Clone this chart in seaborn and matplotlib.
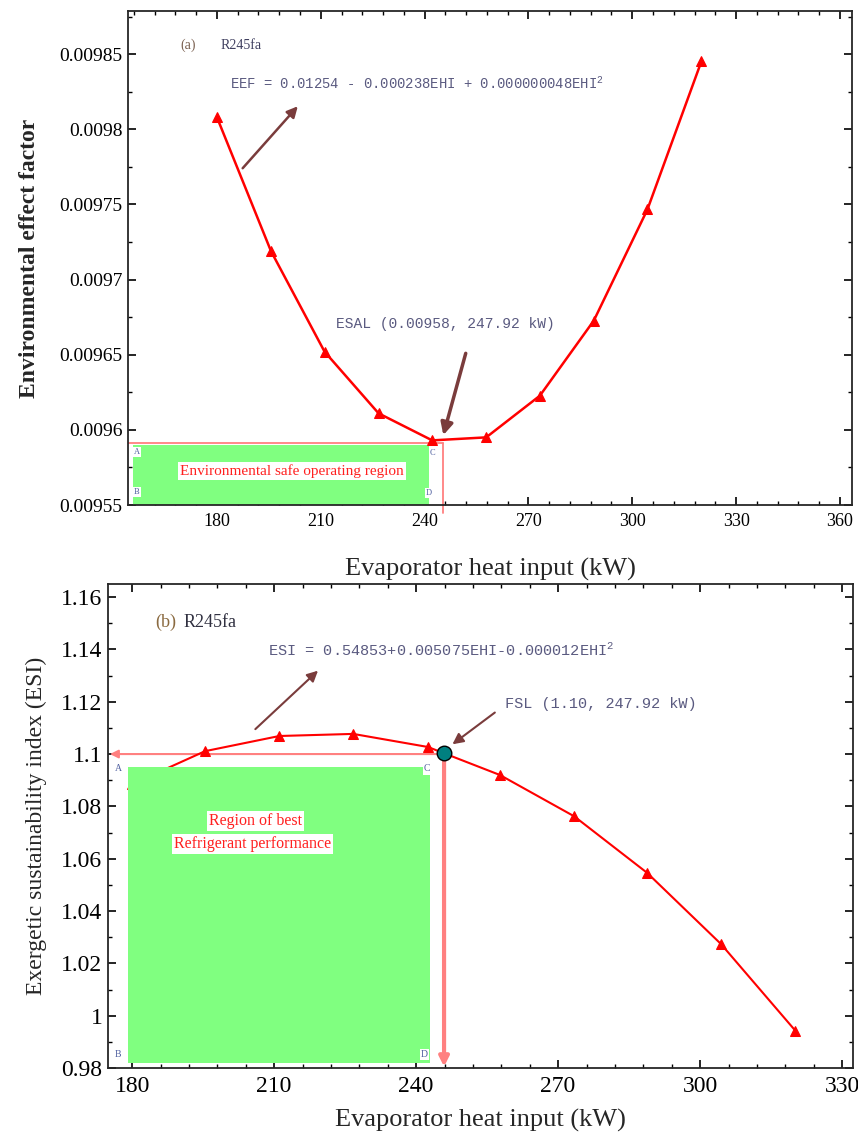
import numpy as np
import pandas as pd
import matplotlib
matplotlib.use("Agg")
import matplotlib.pyplot as plt
import seaborn as sns
from matplotlib.ticker import MultipleLocator, FixedLocator
from matplotlib.patches import Rectangle

# ---------------- data ----------------
ehi_a = [180.0, 195.6, 211.1, 226.7, 242.2, 257.8, 273.3, 288.9, 304.4, 320.0]
eef_a = [0.009808, 0.009719, 0.009652, 0.009611, 0.009593, 0.009595, 0.0096227, 0.0096727, 0.0097467, 0.0098453]
esal_x = 245.3
esal_y = 0.009591

ehi_b = [180.0, 195.4, 211.1, 226.7, 242.5, 257.7, 273.4, 288.8, 304.4, 320.1]
esi_b = [1.0885, 1.1011, 1.1069, 1.1077, 1.1027, 1.0920, 1.0762, 1.0546, 1.0274, 0.9943]
esl_x = [245.9]
esl_y = [1.1004]

xticks_a = [180, 210, 240, 270, 300, 330, 360]
yticks_a = [0.00955, 0.0096, 0.00965, 0.0097, 0.00975, 0.0098, 0.00985]
ytick_labels_a = ["0.00955", "0.0096", "0.00965", "0.0097", "0.00975", "0.0098", "0.00985"]
xticks_b = [180, 210, 240, 270, 300, 330]
yticks_b = [0.98, 1.0, 1.02, 1.04, 1.06, 1.08, 1.1, 1.12, 1.14, 1.16]
ytick_labels_b = ["0.98", "1", "1.02", "1.04", "1.06", "1.08", "1.1", "1.12", "1.14", "1.16"]

df_a = pd.DataFrame({"EHI": ehi_a, "EEF": eef_a})
df_b = pd.DataFrame({"EHI": ehi_b, "ESI": esi_b})

# ---------------- style ----------------
sns.set_theme(style="ticks")
plt.rcParams["font.family"] = ["Liberation Serif", "DejaVu Serif"]
plt.rcParams["axes.linewidth"] = 1.3
plt.rcParams["mathtext.fontset"] = "custom"
plt.rcParams["mathtext.rm"] = "Liberation Mono"

RED = "#ff0000"
PINK = "#ff8080"
GREEN = "#80ff80"
BROWN = "#7a3c3c"
TXT = "#5a5a80"
MONO = "Liberation Mono"

fig = plt.figure(figsize=(8.58, 11.38), dpi=100)
ax1 = fig.add_axes([128/858, 1-505/1138, (852-128)/858, (505-11)/1138])
ax2 = fig.add_axes([108/858, 1-1068/1138, (853-108)/858, (1068-584)/1138])

def style_ticks(ax, lab_x, lab_y):
    ax.tick_params(which="both", direction="in", top=True, right=True, colors="black")
    ax.tick_params(which="major", length=6, width=1.2)
    ax.tick_params(which="minor", length=3, width=1.0)
    ax.tick_params(axis="x", labelsize=lab_x, pad=6)
    ax.tick_params(axis="y", labelsize=lab_y, pad=4)

# ---------------- panel (a) ----------------
ax1.add_patch(Rectangle((155.8, 0.00955), 241.4-155.8, 0.00959-0.00955,
                        facecolor=GREEN, edgecolor="none", zorder=1))
ax1.plot([154.3, esal_x], [esal_y, esal_y], color=PINK, lw=1.3, zorder=2)
ax1.plot([esal_x, esal_x], [esal_y, 0.009545], color=PINK, lw=1.3, zorder=2, clip_on=False)
sns.lineplot(data=df_a, x="EHI", y="EEF", ax=ax1, color=RED, lw=1.8,
             marker="^", markersize=7, markeredgecolor=RED, zorder=3)

ax1.set_xlim(154.3, 363.5)
ax1.set_ylim(0.00955, 0.0098787)
ax1.xaxis.set_major_locator(FixedLocator(xticks_a))
ax1.xaxis.set_minor_locator(MultipleLocator(6))
ax1.yaxis.set_major_locator(FixedLocator(yticks_a))
ax1.set_yticklabels(ytick_labels_a)
ax1.yaxis.set_minor_locator(MultipleLocator(0.000025))
style_ticks(ax1, 13, 14)
ax1.set_xlabel("Evaporator heat input (kW)", fontsize=19, labelpad=20)
ax1.set_ylabel("Environmental effect factor", fontsize=17, fontweight="bold", labelpad=14)

ax1.text(169.3, 0.009856, "(a)", fontsize=10, color="#7a6050", va="center")
ax1.text(181.0, 0.009856, "R245fa", fontsize=10, color="#404060", va="center")
ax1.text(183.8, 0.00983, r"EEF = 0.01254 - 0.000238EHI + 0.000000048EHI$^2$",
         fontsize=10, family=MONO, color=TXT, va="center")
ax1.annotate("", xy=(203.9, 0.0098167), xytext=(186.9, 0.0097727),
             arrowprops=dict(arrowstyle="-|>", color=BROWN, lw=1.8, mutation_scale=16))
ax1.text(214.3, 0.0096707, "ESAL (0.00958, 247.92 kW)", fontsize=10.5,
         family=MONO, color=TXT, va="center")
ax1.annotate("", xy=(245.2, 0.0095947), xytext=(252.1, 0.0096527),
             arrowprops=dict(arrowstyle="-|>", color=BROWN, lw=2.5, mutation_scale=18))
ax1.text(201.6, 0.0095727, "Environmental safe operating region", fontsize=11,
         color="#ff2020", ha="center", va="center",
         bbox=dict(facecolor="white", edgecolor="none", pad=1.5))
for lab, lx, ly in [("A", 156.8, 0.0095853), ("B", 156.8, 0.0095587),
                    ("C", 242.3, 0.0095847), ("D", 241.3, 0.009558)]:
    ax1.text(lx, ly, lab, fontsize=6, color="#5060a0", ha="center", va="center",
             bbox=dict(facecolor="white", edgecolor="none", pad=0.8))

# ---------------- panel (b) ----------------
sns.lineplot(data=df_b, x="EHI", y="ESI", ax=ax2, color=RED, lw=1.5,
             marker="^", markersize=7, markeredgecolor=RED, zorder=3)
ax2.add_patch(Rectangle((179.2, 0.9819), 243.0-179.2, 1.095-0.9819,
                        facecolor=GREEN, edgecolor="none", zorder=4))
ax2.annotate("", xy=(175.3, 1.1), xytext=(245.9, 1.1),
             arrowprops=dict(arrowstyle="-|>", color=PINK, lw=1.5, mutation_scale=12,
                             shrinkA=0, shrinkB=0), zorder=2)
ax2.annotate("", xy=(245.9, 0.9805), xytext=(245.9, 1.1),
             arrowprops=dict(arrowstyle="-|>", color=PINK, lw=3, mutation_scale=14,
                             shrinkA=0, shrinkB=0), zorder=5)
ax2.scatter(esl_x, esl_y, s=110, color="#008080", edgecolor="black", lw=1.0, zorder=6)

ax2.set_xlim(174.9, 332.3)
ax2.set_ylim(0.98, 1.165)
ax2.xaxis.set_major_locator(FixedLocator(xticks_b))
ax2.xaxis.set_minor_locator(MultipleLocator(6))
ax2.yaxis.set_major_locator(FixedLocator(yticks_b))
ax2.set_yticklabels(ytick_labels_b)
ax2.yaxis.set_minor_locator(MultipleLocator(0.01))
style_ticks(ax2, 17, 17)
ax2.set_xlabel("Evaporator heat input (kW)", fontsize=19, labelpad=8)
ax2.set_ylabel("Exergetic sustainability index (ESI)", fontsize=17, labelpad=10)

ax2.text(184.9, 1.1502, "(b)", fontsize=13, color="#8a6a40", va="center")
ax2.text(190.8, 1.1502, "R245fa", fontsize=13, color="#303040", va="center")
ax2.text(208.7, 1.1395, r"ESI = 0.54853+0.005075EHI-0.000012EHI$^2$",
         fontsize=11, family=MONO, color=TXT, va="center")
ax2.annotate("", xy=(219.7, 1.1326), xytext=(205.6, 1.1088),
             arrowprops=dict(arrowstyle="-|>", color=BROWN, lw=1.5, mutation_scale=16))
ax2.text(258.8, 1.1192, "FSL (1.10, 247.92 kW)", fontsize=11, family=MONO,
         color=TXT, va="center")
ax2.annotate("", xy=(247.2, 1.1031), xytext=(257.1, 1.1165),
             arrowprops=dict(arrowstyle="-|>", color=BROWN, lw=1.5, mutation_scale=16))
ax2.text(206.0, 1.0743, "Region of best", fontsize=11.5, color="#ff2020",
         ha="center", va="center", zorder=7,
         bbox=dict(facecolor="white", edgecolor="none", pad=1.5))
ax2.text(205.4, 1.0655, "Refrigerant performance", fontsize=11.5, color="#ff2020",
         ha="center", va="center", zorder=7,
         bbox=dict(facecolor="white", edgecolor="none", pad=1.5))
for lab, lx, ly in [("A", 177.0, 1.0943), ("B", 177.0, 0.9851),
                    ("C", 242.3, 1.0943), ("D", 241.7, 0.9851)]:
    ax2.text(lx, ly, lab, fontsize=7, color="#5060a0", ha="center", va="center", zorder=7,
             bbox=dict(facecolor="white", edgecolor="none", pad=0.8))

fig.savefig("out.png", dpi=100)
